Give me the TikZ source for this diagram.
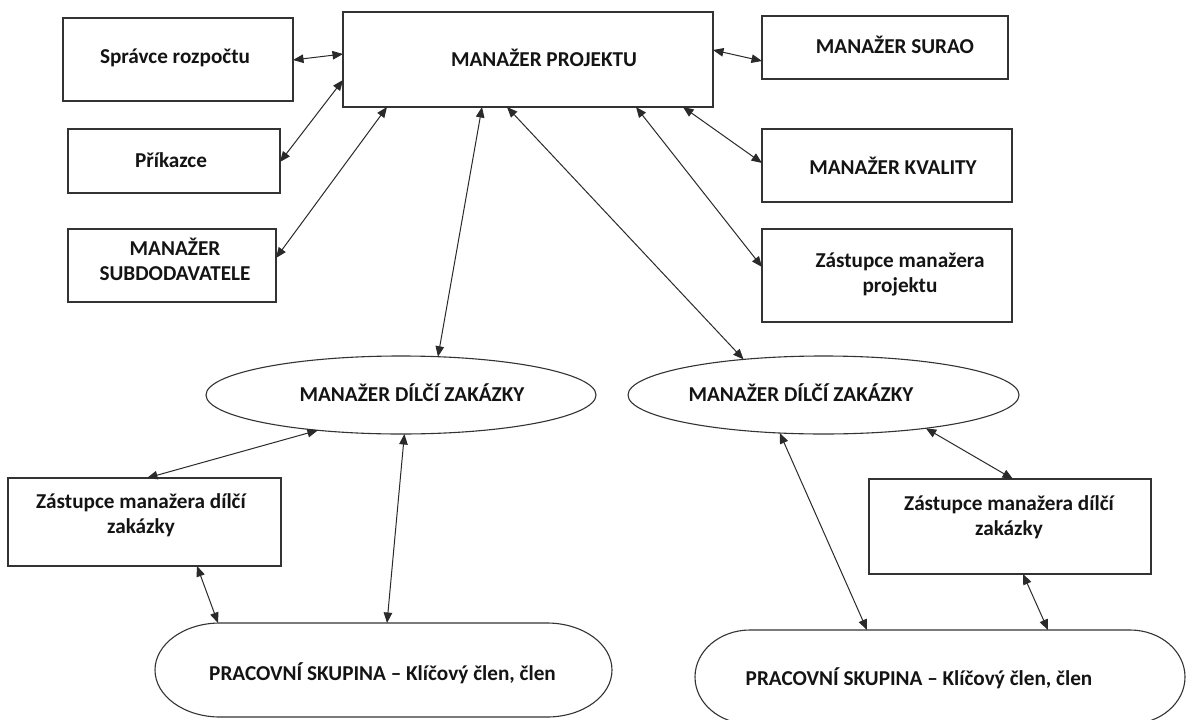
\documentclass[tikz,border=0pt]{standalone}
\usepackage{fontspec}
\setmainfont{Carlito}
\usetikzlibrary{arrows.meta,shapes.geometric,calc}
\definecolor{boxc}{HTML}{333333}
\definecolor{txtc}{HTML}{141414}
\definecolor{linec}{HTML}{2A2A2A}
\begin{document}
\begin{tikzpicture}[x=1pt,y=-1pt,
  box/.style={draw=boxc, line width=1.3pt, rectangle, inner sep=0pt, outer sep=0pt},
  oval/.style={draw=boxc, line width=1.1pt, ellipse, inner sep=0pt, outer sep=0pt},
  blank/.style={rectangle, inner sep=0pt, outer sep=0pt},
  txt/.style={font=\fontsize{21.2}{25}\selectfont\bfseries, text=txtc, align=center, inner sep=0pt},
  stadium/.style={draw=boxc, line width=1.1pt},
  link/.style={draw=linec, line width=1pt, {Triangle[length=10.5pt,width=8.5pt]}-{Triangle[length=10.5pt,width=8.5pt]}},
  every label/.style={txt}]
\fill[white] (0,0) rectangle (1186,720);
\useasboundingbox (0,0) rectangle (1186,720);

% top-left boxes
\node[box, minimum width=230pt, minimum height=83pt,
  label={[shift={(-3,-1.5)}]center:{Správce rozpočtu}}] (sr) at (178,59.5) {};
\node[box, minimum width=212pt, minimum height=64pt,
  label={[shift={(-3,-1)}]center:{Příkazce}}] (pk) at (174,161) {};
\node[box, minimum width=208pt, minimum height=73pt,
  label={[shift={(3,-6.5)}]center:{MANAŽER\\SUBDODAVATELE}}] (ms) at (172,265.5) {};

% project manager
\node[box, minimum width=370pt, minimum height=95pt,
  label={[shift={(16,-1.5)}]center:{MANAŽER PROJEKTU}}] (pm) at (528,59.5) {};

% right boxes
\node[box, minimum width=246pt, minimum height=63pt,
  label={[shift={(10,-2.5)}]center:{MANAŽER SURAO}}] (su) at (885,47.5) {};
\node[box, minimum width=250pt, minimum height=73pt,
  label={[shift={(6,0.5)}]center:{MANAŽER KVALITY}}] (kv) at (887,165.5) {};
\node[box, minimum width=250pt, minimum height=93pt,
  label={[shift={(13,-1.5)}]center:{Zástupce manažera\\projektu}}] (zp) at (887,275.5) {};

% ellipses
\node[oval, minimum width=390pt, minimum height=78pt,
  label={[shift={(11,-2)}]center:{MANAŽER DÍLČÍ ZAKÁZKY}}] (e1) at (401,395) {};
\node[oval, minimum width=391pt, minimum height=78pt,
  label={[shift={(-22.5,-2)}]center:{MANAŽER DÍLČÍ ZAKÁZKY}}] (e2) at (823.5,395) {};

% deputies
\node[box, minimum width=273pt, minimum height=88pt,
  label={[shift={(-3.5,-6.5)}]center:{Zástupce manažera dílčí\\zakázky}}] (zl) at (144.5,522) {};
\node[box, minimum width=282pt, minimum height=95pt,
  label={[shift={(-1,-9)}]center:{Zástupce manažera dílčí\\zakázky}}] (zr) at (1010,526.5) {};

% working groups
\node[blank, minimum width=457pt, minimum height=94pt,
  label={[shift={(-1,3)}]center:{PRACOVNÍ SKUPINA – Klíčový člen, člen}}] (pl) at (383.5,670) {};
\node[blank, minimum width=490pt, minimum height=94pt,
  label={[shift={(-21,1)}]center:{PRACOVNÍ SKUPINA – Klíčový člen, člen}}] (pr) at (940,677) {};

\draw[stadium] ($(pl.north west)+(65,0)$) -- ($(pl.north east)+(-65,0)$)
  arc[start angle=90, end angle=-90, x radius=65pt, y radius=47pt]
  -- ($(pl.south west)+(65,0)$)
  arc[start angle=270, end angle=90, x radius=65pt, y radius=47pt] -- cycle;
\draw[stadium] ($(pr.north west)+(55,0)$) -- ($(pr.north east)+(-55,0)$)
  arc[start angle=90, end angle=-90, x radius=55pt, y radius=47pt]
  -- ($(pr.south west)+(55,0)$)
  arc[start angle=270, end angle=90, x radius=55pt, y radius=47pt] -- cycle;

% connectors
\draw[link] ($(sr.east)+(0,0.5)$) -- ($(pm.west)+(0,-5.5)$);
\draw[link] ($(pk.east)+(0,1)$) -- ($(pm.west)+(0,20.5)$);
\draw[link] ($(ms.east)+(0,-7.5)$) -- ($(pm.south west)+(44,0)$);
\draw[link] ($(pm.east)+(0,-9.5)$) -- ($(su.west)+(0,13.5)$);
\draw[link] ($(pm.south east)+(-30,0)$) -- ($(kv.west)+(0,-2.5)$);
\draw[link] ($(pm.south east)+(-77,0)$) -- ($(zp.west)+(0,-8.5)$);
\draw[link] ($(pm.south west)+(139,0)$) -- (e1.46.8);
\draw[link] ($(pm.south west)+(164,0)$) -- (e2.156.5);
\draw[link] (e1.203) -- ($(zl.north)+(2.5,0)$);
\draw[link] (e1.275.9) -- ($(pl.north west)+(232,0)$);
\draw[link] ($(zl.south west)+(189,0)$) -- ($(pl.north west)+(63,0)$);
\draw[link] (e2.221.1) -- ($(pr.north west)+(172,0)$);
\draw[link] (e2.342.5) -- ($(zr.north)+(3,0)$);
\draw[link] ($(zr.south)+(13,0)$) -- ($(pr.north west)+(353,0)$);
\end{tikzpicture}
\end{document}
